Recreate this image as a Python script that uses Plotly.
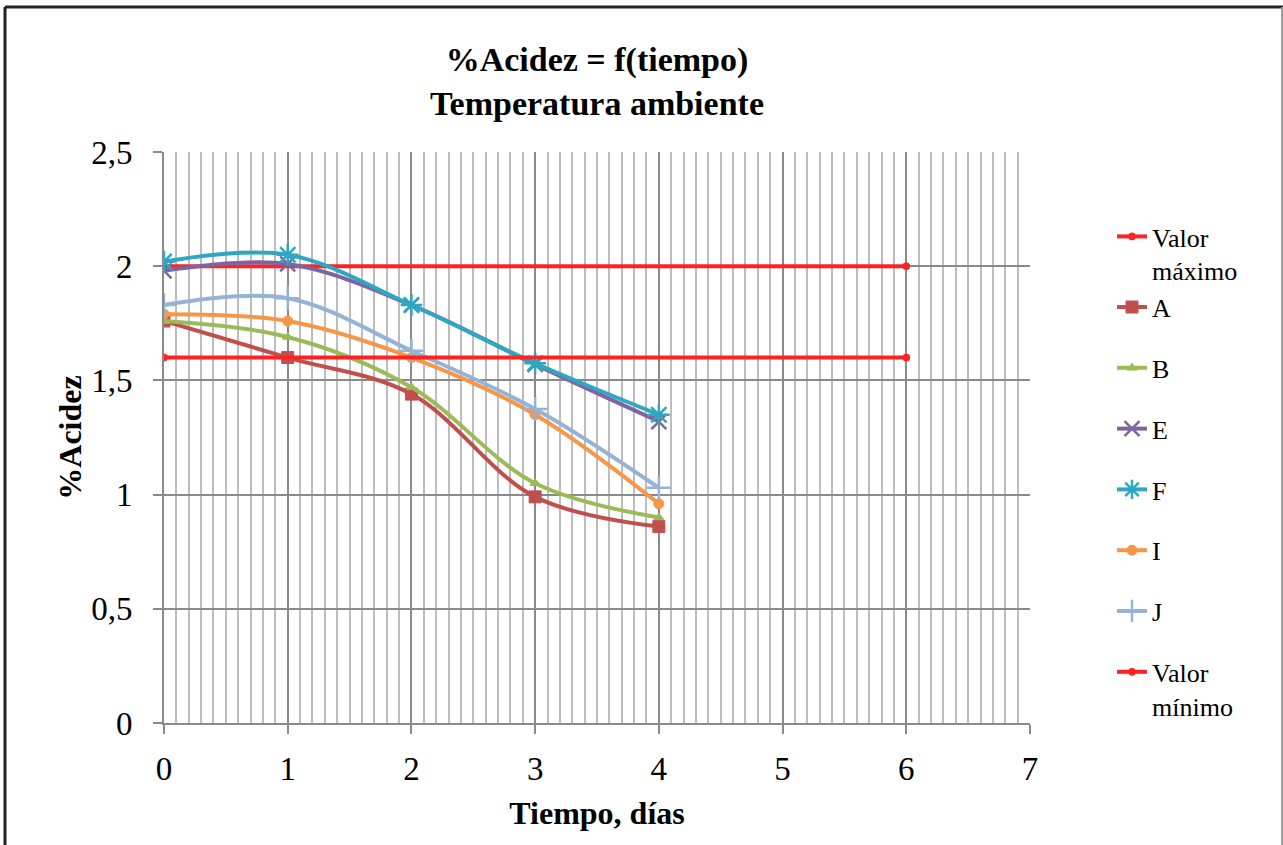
import plotly.graph_objects as go

dias = [0, 1, 2, 3, 4]
lim_x = [0, 6]
valor_max = [2.0, 2.0]
valor_min = [1.6, 1.6]
A = [1.76, 1.60, 1.44, 0.99, 0.86]
B = [1.76, 1.69, 1.47, 1.05, 0.90]
E = [1.98, 2.01, 1.83, 1.57, 1.32]
F = [2.02, 2.05, 1.83, 1.575, 1.35]
I = [1.79, 1.76, 1.60, 1.35, 0.96]
J = [1.83, 1.86, 1.63, 1.375, 1.03]
x_ticks = [0, 1, 2, 3, 4, 5, 6, 7]
y_ticks = [0, 0.5, 1, 1.5, 2, 2.5]
y_ticklabels = ["0", "0,5", "1", "1,5", "2", "2,5"]

SERIF = "Liberation Serif, Times New Roman, serif"
RED = "#FF2222"

fig = go.Figure()

def add(name, x, y, color, symbol, size, group, lw=1, shape="spline"):
    fig.add_trace(go.Scatter(
        x=x, y=y, name=name, mode="lines+markers", legendgroup=group,
        line=dict(color=color, width=4, shape=shape, smoothing=1.0),
        marker=dict(symbol=symbol, size=size, color=color, line=dict(color=color, width=lw)),
    ))

add("Valor<br>máximo", lim_x, valor_max, RED, "circle", 7, "g1", shape="linear")
add("A", dias, A, "#C0504D", "square", 12, "g1")
add("B", dias, B, "#9BBB59", "triangle-up", 9, "g2")
add("E", dias, E, "#8064A2", "x-thin", 15, "g3", lw=2.5)
add("F", dias, F, "#2EA8C0", "asterisk", 18, "g4", lw=2.5)
add("I", dias, I, "#F79646", "circle", 10, "g5")
add("J", dias, J, "#95B3D7", "cross-thin", 17, "g6", lw=2.5)
add("Valor<br>mínimo", lim_x, valor_min, RED, "circle", 7, "g7", shape="linear")

# outer frame
L, R, T, Bm = 164, 1030, 152, 723
W, H = R - L, Bm - T
def px(xp): return (xp - L) / W
def py(yp): return (Bm - yp) / H
fig.add_shape(type="line", xref="paper", yref="paper", x0=px(5), x1=px(1283), y0=py(7), y1=py(7),
              line=dict(color="#222222", width=3))
fig.add_shape(type="line", xref="paper", yref="paper", x0=px(5), x1=px(5), y0=py(7), y1=py(870),
              line=dict(color="#222222", width=3))
fig.add_shape(type="line", xref="paper", yref="paper", x0=px(1282), x1=px(1282), y0=py(7), y1=py(870),
              line=dict(color="#A0A0A0", width=2))

fig.update_layout(
    width=1283, height=845,
    margin=dict(l=L, r=1283 - R, t=T, b=845 - Bm),
    paper_bgcolor="white", plot_bgcolor="white",
    font=dict(family=SERIF, color="black", size=26),
    title=dict(text="<b>%Acidez = f(tiempo)<br>Temperatura ambiente</b>",
               x=0.5, xanchor="center", xref="paper", y=1 - 71 / 845, yanchor="middle",
               font=dict(family=SERIF, size=34, color="black")),
    showlegend=True,
    legend=dict(x=px(1112), xanchor="left", y=py(213), yanchor="top",
                font=dict(family=SERIF, size=26, color="black"),
                tracegroupgap=24, valign="top", bgcolor="rgba(0,0,0,0)"),
)

fig.update_xaxes(
    range=[0, 7], tickmode="array", tickvals=x_ticks, ticktext=[str(v) for v in x_ticks],
    showgrid=True, gridcolor="#8A8A8A", gridwidth=2,
    minor=dict(dtick=0.1, showgrid=True, gridcolor="#BDBDBD", gridwidth=2, ticks=""),
    showline=True, linecolor="#8A8A8A", linewidth=2,
    ticks="outside", ticklen=9, tickwidth=2, tickcolor="#8A8A8A",
    ticklabelstandoff=6,
    tickfont=dict(family=SERIF, size=33), zeroline=False,
    title=dict(text="<b>Tiempo, días</b>", font=dict(family=SERIF, size=32), standoff=16),
)
fig.update_yaxes(
    range=[0, 2.5], tickmode="array", tickvals=y_ticks, ticktext=y_ticklabels,
    showgrid=True, gridcolor="#8A8A8A", gridwidth=2,
    showline=True, linecolor="#8A8A8A", linewidth=2,
    ticks="outside", ticklen=9, tickwidth=2, tickcolor="#8A8A8A",
    ticklabelstandoff=14,
    tickfont=dict(family=SERIF, size=33), zeroline=False,
    title=dict(text="<b>%Acidez</b>", font=dict(family=SERIF, size=32), standoff=0),
)

fig.write_html("out.html")
